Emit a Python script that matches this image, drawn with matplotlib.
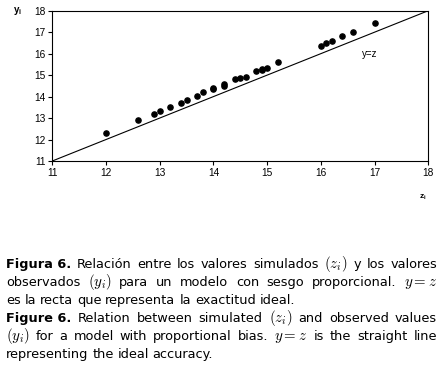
import matplotlib
matplotlib.use("Agg")
import matplotlib.pyplot as plt

plt.rcParams["mathtext.fontset"] = "cm"

# simulated (z) vs observed (y)
z_sim = [12.0, 12.6, 12.9, 13.0, 13.2, 13.4, 13.5, 13.7, 13.8, 14.0, 14.0,
         14.2, 14.2, 14.4, 14.5, 14.6, 14.8, 14.9, 14.9, 15.0, 15.2,
         16.0, 16.1, 16.2, 16.4, 16.6, 17.0]
y_obs = [12.3, 12.93, 13.2, 13.33, 13.52, 13.7, 13.82, 14.05, 14.2, 14.35, 14.38,
         14.5, 14.57, 14.8, 14.87, 14.9, 15.2, 15.25, 15.3, 15.35, 15.62,
         16.37, 16.48, 16.58, 16.82, 17.0, 17.42]
ticks = [11, 12, 13, 14, 15, 16, 17, 18]

caption = [
    ([("Figura 6.", "bold"), ("Relación", "normal"), ("entre", "normal"), ("los", "normal"),
      ("valores", "normal"), ("simulados", "normal"), ("$(z_i)$", "normal"), ("y", "normal"),
      ("los", "normal"), ("valores", "normal")], True),
    ([("observados", "normal"), ("$(y_i)$", "normal"), ("para", "normal"), ("un", "normal"),
      ("modelo", "normal"), ("con", "normal"), ("sesgo", "normal"), ("proporcional.", "normal"),
      ("$y=z$", "normal")], True),
    ([("es", "normal"), ("la", "normal"), ("recta", "normal"), ("que", "normal"),
      ("representa", "normal"), ("la", "normal"), ("exactitud", "normal"), ("ideal.", "normal")], False),
    ([("Figure 6.", "bold"), ("Relation", "normal"), ("between", "normal"), ("simulated", "normal"),
      ("$(z_i)$", "normal"), ("and", "normal"), ("observed", "normal"), ("values", "normal")], True),
    ([("$(y_i)$", "normal"), ("for", "normal"), ("a", "normal"), ("model", "normal"),
      ("with", "normal"), ("proportional", "normal"), ("bias.", "normal"), ("$y=z$", "normal"),
      ("is", "normal"), ("the", "normal"), ("straight", "normal"), ("line", "normal")], True),
    ([("representing", "normal"), ("the", "normal"), ("ideal", "normal"), ("accuracy.", "normal")], False),
]

W, H = 441, 366
fig = plt.figure(figsize=(W / 100, H / 100), dpi=100)
ax = fig.add_axes([52.3 / W, 1 - 161 / H, 376 / W, 150.3 / H])

ax.plot([11, 18], [11, 18], color="black", lw=0.8)
ax.scatter(z_sim, y_obs, s=14, color="black", zorder=3)
ax.text(16.77, 16.0, "y=z", fontsize=7, family="Liberation Sans", va="center")

ax.set_xlim(11, 18)
ax.set_ylim(11, 18)
ax.set_xticks(ticks)
ax.set_yticks(ticks)
for lab in ax.get_xticklabels() + ax.get_yticklabels():
    lab.set_family("Liberation Sans")
    lab.set_fontsize(7.3)
ax.tick_params(length=3, width=0.8, pad=2)
for sp in ax.spines.values():
    sp.set_linewidth(0.8)

fig.text(13 / W, 1 - 11 / H, r"y$_\mathregular{i}$", fontsize=7,
         family="Liberation Sans", weight="bold", va="center")
fig.text(419 / W, 1 - 197 / H, r"z$_\mathregular{i}$", fontsize=6,
         family="Liberation Sans", weight="bold", va="center")

# justified caption
r = fig.canvas.get_renderer()
fs = 9.3
left, right = 6 / W, 437 / W
space = 0.3 * fs / 72 * 100 / W
baselines = [268, 286, 304, 322, 340, 358]
for (tokens, justify), yb in zip(caption, baselines):
    texts = [fig.text(0, 1 - yb / H, t, fontsize=fs * 1.15 if t.startswith("$") else fs,
                      weight=w, va="baseline", family="DejaVu Sans") for t, w in tokens]
    widths = [t.get_window_extent(r).width / W for t in texts]
    if justify and len(texts) > 1:
        gap = (right - left - sum(widths)) / (len(texts) - 1)
    else:
        gap = space
    x = left
    for t, w in zip(texts, widths):
        t.set_x(x)
        x += w + gap

fig.savefig("out.png", dpi=100)
